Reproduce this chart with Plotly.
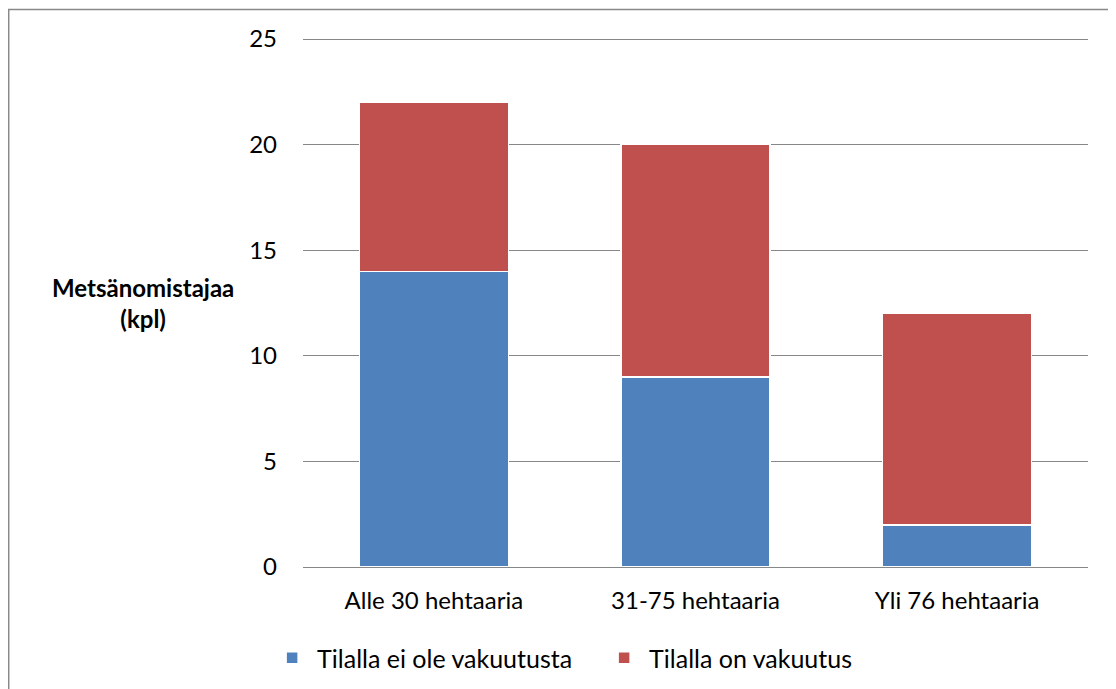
import plotly.graph_objects as go

categories = ["Alle 30 hehtaaria", "31-75 hehtaaria", "Yli 76 hehtaaria"]
ei_vakuutusta = [14, 9, 2]
on_vakuutus = [8, 11, 10]
series_names = ["Tilalla ei ole vakuutusta", "Tilalla on vakuutus"]
y_ticks = [0, 5, 10, 15, 20, 25]

FONT = "Lato"
W, H = 1108, 681
L, R, T, B = 295, 28, 30, 122
PW, PH = W - L - R, H - T - B

fig = go.Figure()
fig.add_trace(go.Bar(x=categories, y=ei_vakuutusta, name=series_names[0],
                     marker=dict(color="#4F81BD", line=dict(color="white", width=1.5))))
fig.add_trace(go.Bar(x=categories, y=on_vakuutus, name=series_names[1],
                     marker=dict(color="#C0504D", line=dict(color="white", width=1.5))))

fig.update_layout(
    barmode="stack",
    bargap=0.43,
    width=W, height=H,
    margin=dict(l=L, r=R, t=T, b=B),
    paper_bgcolor="white", plot_bgcolor="white",
    font=dict(family=FONT, size=24, color="black"),
    showlegend=True,
    legend=dict(orientation="h", xref="container", yref="container",
                x=0.5335, y=1 - 650 / H, xanchor="center", yanchor="middle",
                font=dict(size=25), traceorder="normal",
                itemwidth=40, entrywidth=277),
)
fig.update_yaxes(range=[0, 25.05], tickvals=y_ticks, showgrid=True,
                 gridcolor="#878787", gridwidth=1, zeroline=False,
                 showline=False, ticklabelstandoff=25, tickfont=dict(size=24))
fig.update_xaxes(showline=True, linecolor="#878787", linewidth=1,
                 ticklabelstandoff=12, tickfont=dict(size=24))

fig.add_annotation(text="<b>Metsänomistajaa<br>(kpl)</b>", xref="paper", yref="paper",
                   x=(134.5 - L) / PW, y=(H - B - 295) / PH, showarrow=False,
                   xanchor="center", yanchor="middle",
                   font=dict(size=24), align="center")

fig.add_shape(type="rect", xref="paper", yref="paper",
              x0=(0.7 - L) / PW, x1=1.2, y0=-0.4, y1=1 + (T - 1.5) / PH,
              line=dict(color="#888888", width=1.5), layer="below")

fig.write_html("out.html")
